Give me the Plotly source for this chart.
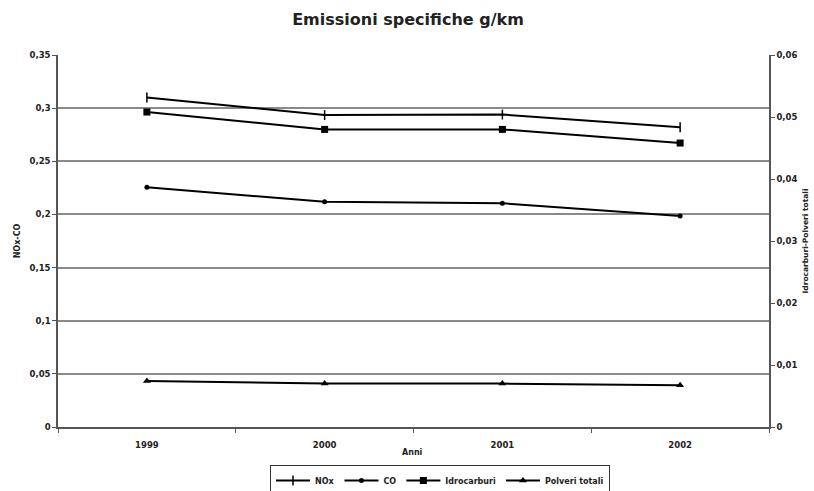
import plotly.graph_objects as go

years = ["1999", "2000", "2001", "2002"]
nox = [0.310, 0.2935, 0.294, 0.282]
co = [0.2255, 0.212, 0.2105, 0.1985]
idrocarburi = [0.0508, 0.0480, 0.0480, 0.0458]
polveri = [0.00743, 0.0070, 0.0070, 0.00673]

left_ticks = [0, 0.05, 0.1, 0.15, 0.2, 0.25, 0.3, 0.35]
right_ticks = [0, 0.01, 0.02, 0.03, 0.04, 0.05, 0.06]

FONT = "DejaVu Sans, Liberation Sans, Arial, sans-serif"
fig = go.Figure()

fig.add_trace(go.Scatter(x=years, y=nox, name="NOx", mode="lines+markers",
                         line=dict(color="black", width=2),
                         marker=dict(symbol="line-ns-open", size=7, color="black",
                                     line=dict(color="black", width=1.5))))
fig.add_trace(go.Scatter(x=years, y=co, name="CO", mode="lines+markers",
                         line=dict(color="black", width=2),
                         marker=dict(symbol="circle", size=5, color="black")))
fig.add_trace(go.Scatter(x=years, y=idrocarburi, name="Idrocarburi", mode="lines+markers",
                         yaxis="y2", line=dict(color="black", width=2),
                         marker=dict(symbol="square", size=7, color="black")))
fig.add_trace(go.Scatter(x=years, y=polveri, name="Polveri totali", mode="lines+markers",
                         yaxis="y2", line=dict(color="black", width=2),
                         marker=dict(symbol="triangle-up", size=7, color="black")))

tickfont = dict(family=FONT, size=8.5, color="#222", weight="bold")

fig.update_layout(
    width=814, height=491,
    margin=dict(l=58, r=45, t=55, b=64, autoexpand=False),
    paper_bgcolor="white", plot_bgcolor="white",
    separators=",.",
    font=dict(family=FONT, color="#222"),
    title=dict(text="<b>Emissioni specifiche g/km</b>", x=408 / 814, xanchor="center",
               y=1 - 19 / 491, yanchor="middle",
               font=dict(family=FONT, size=16, color="#222")),
    xaxis=dict(type="category", range=[-0.5, 3.5], showgrid=False, automargin=False,
               showline=True, linecolor="#555", linewidth=1.5,
               ticks="outside", tickson="boundaries", ticklen=4, tickcolor="#555",
               tickfont=tickfont, ticklabelstandoff=9),
    yaxis=dict(range=[0, 0.35], tickvals=left_ticks, showgrid=True, automargin=False,
               gridcolor="#8a8a8a", gridwidth=1.5,
               showline=True, linecolor="#555", linewidth=1.5,
               ticks="outside", ticklen=4, tickcolor="#555", tickfont=tickfont,
               title=dict(text="<b>NOx-CO</b>", font=dict(family=FONT, size=8, color="#222"),
                          standoff=8),
               zeroline=False),
    yaxis2=dict(range=[0, 0.06], tickvals=right_ticks, overlaying="y", side="right",
                showgrid=False, showline=True, linecolor="#555", linewidth=1.5,
                automargin=False,
                ticks="outside", ticklen=4, tickcolor="#555", tickfont=tickfont,
                title=dict(text="<b>Idrocarburi-Polveri totali</b>",
                           font=dict(family=FONT, size=7.5, color="#222"), standoff=6),
                zeroline=False),
    legend=dict(orientation="h", x=(440 - 58) / 711, xanchor="center",
                y=(427 - 465) / 372, yanchor="top",
                bordercolor="#333", borderwidth=1, bgcolor="white",
                font=dict(family=FONT, size=8, color="#222", weight="bold"),
                itemwidth=34, tracegroupgap=0),
    showlegend=True,
    annotations=[dict(text="<b>Anni</b>", x=0.499, xref="paper", y=(427 - 452) / 372,
                      yref="paper", showarrow=False, yanchor="middle",
                      font=dict(family=FONT, size=8, color="#222"))],
)

fig.write_html("out.html", config={"displayModeBar": False},
               post_script="document.body.style.margin='0';document.body.style.overflow='hidden';")
